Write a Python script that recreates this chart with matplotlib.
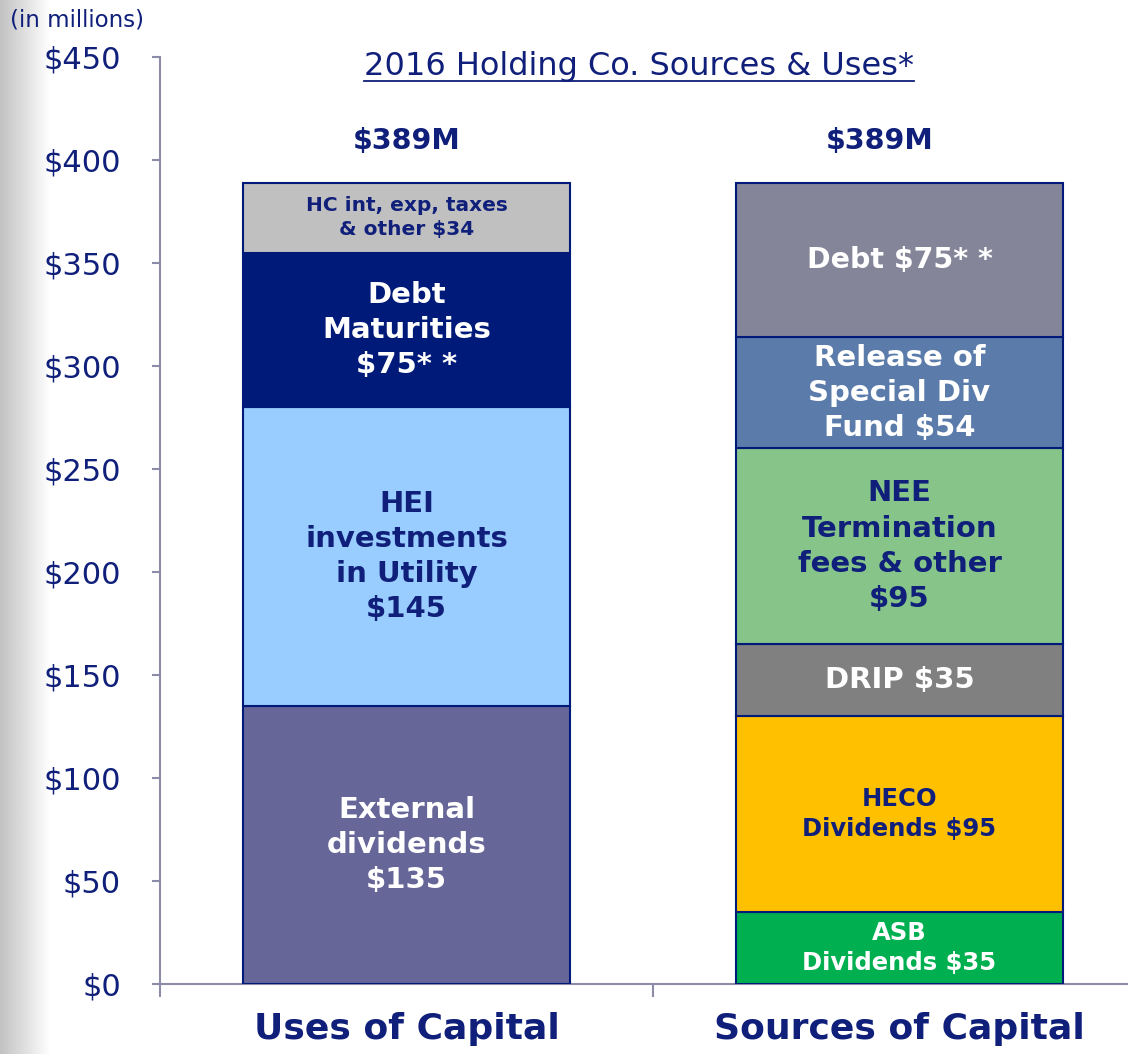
import numpy as np
import matplotlib.pyplot as plt
from matplotlib.lines import Line2D

NAVY = "#0F1F7A"

categories = ["Uses of Capital", "Sources of Capital"]
totals = [389, 389]

uses_values = [135, 145, 75, 34]
uses_labels = ["External\ndividends\n$135", "HEI\ninvestments\nin Utility\n$145",
               "Debt\nMaturities\n$75* *", "HC int, exp, taxes\n& other $34"]
uses_colors = ["#666699", "#99CCFF", "#001A7A", "#C0C0C0"]
uses_text = ["white", NAVY, "white", NAVY]
uses_size = [21, 21, 21, 14.5]

sources_values = [35, 95, 35, 95, 54, 75]
sources_labels = ["ASB\nDividends $35", "HECO\nDividends $95", "DRIP $35",
                  "NEE\nTermination\nfees & other\n$95", "Release of\nSpecial Div\nFund $54",
                  "Debt $75* *"]
sources_colors = ["#00B050", "#FFC000", "#808080", "#86C48A", "#5B7CAA", "#858599"]
sources_text = ["white", NAVY, "white", NAVY, "white", "white"]
sources_size = [17.5, 17.5, 21, 21, 21, 20.5]

y_ticks = list(range(0, 451, 50))

fig = plt.figure(figsize=(11.28, 10.54), dpi=100)

# grey fade on the left edge
bg = fig.add_axes([0, 0, 0.045, 1], zorder=-5)
grad = np.linspace(0.76, 1.0, 64).reshape(1, -1)
bg.imshow(grad, cmap="gray", vmin=0, vmax=1, aspect="auto", extent=[0, 1, 0, 1])
bg.axis("off")

ax = fig.add_axes([160 / 1128, 70 / 1054, 986 / 1128, 927 / 1054])
ax.patch.set_alpha(0)

width = 0.663
stacks = [(uses_values, uses_labels, uses_colors, uses_text, uses_size),
          (sources_values, sources_labels, sources_colors, sources_text, sources_size)]
for i, (vals, labels, colors, tcol, tsize) in enumerate(stacks):
    bottom = 0
    for v, lbl, c, tc, fs in zip(vals, labels, colors, tcol, tsize):
        bars = ax.bar(i, v, bottom=bottom, width=width, color=c,
                      edgecolor="#001A7A", linewidth=1.5, zorder=3)
        ax.bar_label(bars, labels=[lbl], label_type="center", color=tc,
                     fontsize=fs, fontweight="bold", linespacing=1.33, zorder=4)
        bottom += v

for i, t in enumerate(totals):
    ax.text(i - 0.04 * i, t + 20, f"${t}M", ha="center", va="center",
            fontsize=20.5, fontweight="bold", color=NAVY)

ax.set_xlim(-0.5, 1.5)
ax.set_ylim(0, 450)
ax.set_yticks(y_ticks)
ax.set_yticklabels([f"${v}" for v in y_ticks])
ax.set_xticks([0, 1])
ax.set_xticklabels(categories, fontsize=26, fontweight="bold", color=NAVY)
ax.set_xticks([-0.5, 0.5, 1.5], minor=True)

for s in ["top", "right"]:
    ax.spines[s].set_visible(False)
for s in ["left", "bottom"]:
    ax.spines[s].set_color("#8C8CA8")
    ax.spines[s].set_linewidth(1.5)
ax.tick_params(axis="y", labelsize=22, labelcolor=NAVY, color="#8C8CA8",
               length=6, width=1.5, pad=22)
ax.tick_params(axis="x", which="major", length=0, pad=20)
ax.tick_params(axis="x", which="minor", length=9, width=1.5, color="#8C8CA8")

fig.text(10 / 1128, 1 - 20 / 1054, "(in millions)", fontsize=16.5, color=NAVY,
         ha="left", va="center")
title = fig.text(639 / 1128, 1 - 67 / 1054, "2016 Holding Co. Sources & Uses*",
                 fontsize=23, color=NAVY, ha="center", va="center")

fig.canvas.draw()
bb = title.get_window_extent().transformed(fig.transFigure.inverted())
fig.add_artist(Line2D([bb.x0, bb.x1], [bb.y0 + 0.001, bb.y0 + 0.001],
                      transform=fig.transFigure, color=NAVY, linewidth=1.3))

fig.savefig("out.png", dpi=100)
